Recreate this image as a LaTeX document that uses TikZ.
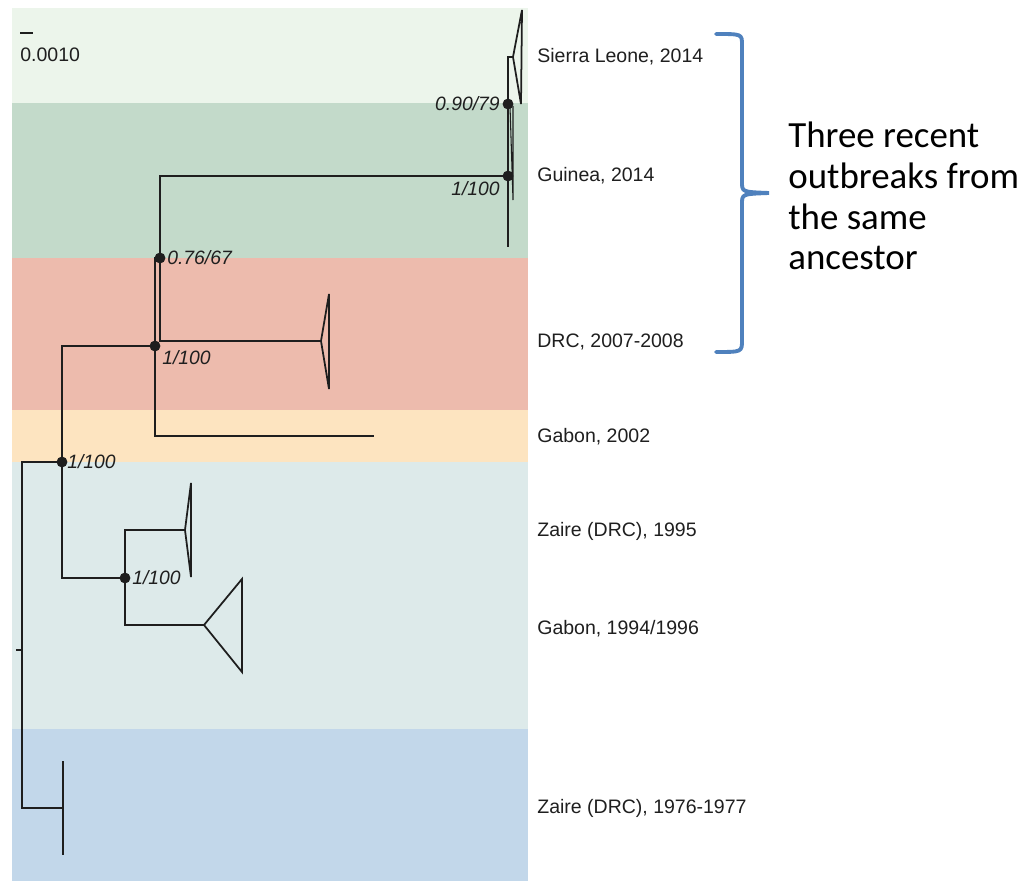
\documentclass[tikz,border=0pt]{standalone}
\usepackage{fontspec}
\setmainfont{Liberation Sans}
\newfontfamily\notefont{Carlito}
\usepackage{tikz}
\usetikzlibrary{positioning,calc}
\definecolor{bandsl}{RGB}{236,245,235}
\definecolor{bandgn}{RGB}{195,218,202}
\definecolor{banddrc}{RGB}{237,187,173}
\definecolor{bandgab}{RGB}{253,228,192}
\definecolor{bandzr}{RGB}{221,234,234}
\definecolor{bandold}{RGB}{194,215,234}
\definecolor{treeline}{RGB}{30,30,30}
\definecolor{braceblue}{RGB}{79,129,189}
\tikzset{
  branch/.style={draw=treeline, line width=1pt},
  nodedot/.style={fill=treeline},
  tiplab/.style={font=\fontsize{11.1}{13}\selectfont, text=black!88, anchor=west, inner sep=0pt},
  supp/.style={font=\fontsize{11}{13}\selectfont\itshape, text=black!88, inner sep=0pt},
  notetext/.style={font=\notefont\fontsize{21}{23.2}\selectfont, align=left, anchor=base west, inner sep=0pt}
}

\begin{document}
\begin{tikzpicture}[x=0.02cm, y=-0.02cm]
  \useasboundingbox (0,0) rectangle (1031,881);
  \fill[white] (0,0) rectangle (1031,881);

  %% coloured bands
  \fill[bandsl]  (12,8)   rectangle (528,103);
  \fill[bandgn]  (12,103) rectangle (528,258);
  \fill[banddrc] (12,258) rectangle (528,410);
  \fill[bandgab] (12,410) rectangle (528,462);
  \fill[bandzr]  (12,462) rectangle (528,729);
  \fill[bandold] (12,729) rectangle (528,881);

  % scale bar
  \draw[branch] (20,33) -- (33,33);
  \node[tiplab] (scale) at (20,55) {0.0010};

  %% tree junctions
  \coordinate (root) at (22,650);
  \coordinate (rootstub) at (16,650);
  \coordinate (nA) at (62,462);
  \coordinate (nB) at (155,346);
  \coordinate (nC) at (160,258);
  \coordinate (nD) at (508,176);
  \coordinate (nE) at (508,104);
  \coordinate (nF) at (125,578);
  \coordinate (nOld) at (63,808);

  % tips and clade apices
  \coordinate (slApex) at (513,57);
  \coordinate (gnTip) at (508,247);
  \coordinate (drcApex) at (321,341);
  \coordinate (gab02) at (374,436);
  \coordinate (z95Apex) at (185,530);
  \coordinate (g94Apex) at (204,625);
  \coordinate (oldTop) at (63,761);
  \coordinate (oldBot) at (63,855);

  %% branches
  \draw[branch] (rootstub) -- (root);
  \draw[branch] (root) |- (nA);
  \draw[branch] (root) |- (nOld);
  \draw[branch] (oldTop) -- (oldBot);
  \draw[branch] (nA) |- (nB);
  \draw[branch] (nA) |- (nF);
  \draw[branch] (nB) |- (nC);
  \draw[branch] (nB) |- (gab02);
  \draw[branch] (nC) |- (nD);
  \draw[branch] (nC) |- (drcApex);
  \draw[branch] (nD) -- (nE);
  \draw[branch] (nD) -- (gnTip);
  \draw[branch] (nE) |- (slApex);
  \draw[branch] (nF) |- (z95Apex);
  \draw[branch] (nF) |- (g94Apex);

  %% collapsed clades
  \draw[branch] (slApex) -- (522,10) -- (521,104) -- cycle;
  \draw[branch, line width=0.6pt] (510,106) -- (513,200) -- (513,106);
  \draw[branch] (drcApex) -- (329,294) -- (329,389) -- cycle;
  \draw[branch] (z95Apex) -- (191,483) -- (191,577) -- cycle;
  \draw[branch] (g94Apex) -- (242,579) -- (242,672) -- cycle;

  %% support dots and values
  \foreach \n in {nA,nB,nC,nD,nE,nF}
    \fill[nodedot] (\n) circle[radius=3.1pt];
  \node[supp, anchor=west] (sA) at (67,462) {1/100};
  \node[supp, anchor=west] (sB) at (162,358) {1/100};
  \node[supp, anchor=west] (sC) at (167,258) {0.76/67};
  \node[supp, anchor=east] (sD) at (500,189) {1/100};
  \node[supp, anchor=east] (sE) at (500,104) {0.90/79};
  \node[supp, anchor=west] (sF) at (132,578) {1/100};

  %% tip labels
  \node[tiplab] (lSL)  at (537,57)  {Sierra Leone, 2014};
  \node[tiplab] (lGN)  at (537,176) {Guinea, 2014};
  \node[tiplab] (lDRC) at (537,342) {DRC, 2007-2008};
  \node[tiplab] (lG02) at (537,437) {Gabon, 2002};
  \node[tiplab] (lZ95) at (537,531) {Zaire (DRC), 1995};
  \node[tiplab] (lG94) at (537,629) {Gabon, 1994/1996};
  \node[tiplab] (lZ76) at (537,808) {Zaire (DRC), 1976-1977};

  %% brace and note
  \draw[braceblue, line width=2.2pt, line cap=round]
    (716,34) .. controls (742,34) .. (742,45) -- (742,182)
    .. controls (742,192) .. (769,193) .. controls (742,194) .. (742,204)
    -- (742,340) .. controls (742,352) .. (716,352);
  \node[notetext] (note) at (788,270) {Three recent\\outbreaks from\\the same\\ancestor};
\end{tikzpicture}
\end{document}
